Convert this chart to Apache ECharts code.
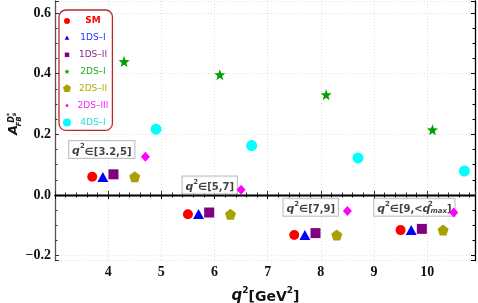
<!DOCTYPE html>
<html><head><meta charset="utf-8">
<script src="https://cdn.jsdelivr.net/npm/echarts@6/dist/echarts.min.js"></script>
<style>html,body{margin:0;padding:0;background:#fff}#c{width:478px;height:303px}</style>
</head><body><div id="c"></div>
<script>
// ---------- data ----------
const seriesNames = ['SM', '1DS–I', '1DS–II', '2DS–I', '2DS–II', '2DS–III', '4DS–I'];
const xSM      = [3.7, 5.5, 7.5, 9.5];
const ySM      = [0.060, -0.064, -0.132, -0.116];
const x1DSI    = [3.9, 5.7, 7.7, 9.7];
const y1DSI    = [0.059, -0.063, -0.132, -0.116];
const x1DSII   = [4.1, 5.9, 7.9, 9.9];
const y1DSII   = [0.068, -0.058, -0.126, -0.112];
const x2DSI    = [4.3, 6.1, 8.1, 10.1];
const y2DSI    = [0.440, 0.397, 0.331, 0.215];
const x2DSII   = [4.5, 6.3, 8.3, 10.3];
const y2DSII   = [0.060, -0.064, -0.132, -0.116];
const x2DSIII  = [4.7, 6.5, 8.5, 10.5];
const y2DSIII  = [0.126, 0.017, -0.053, -0.058];
const x4DSI    = [4.9, 6.7, 8.7, 10.7];
const y4DSI    = [0.217, 0.163, 0.122, 0.079];
const noteX    = [3.88, 5.91, 7.81, 9.76];
const noteY    = [0.150, 0.033, -0.041, -0.041];
const noteText = ['{q|q}{s|2}{b|∈[3.2,5]}', '{q|q}{s|2}{b|∈[5,7]}', '{q|q}{s|2}{b|∈[7,9]}', '{q|q}{s|2}{b|∈[9,<}{q|q}{s0|2}{sub|max}{b|]}'];
const zeroLine = [0];
const xTickMin = 4; // first labelled x tick

// ---------- shapes ----------
function polyPath(pts, pad) {
  return 'path://' + (pad ? 'M0 0M24 24' : '') + pts.map((p, i) => (i ? 'L' : 'M') + p[0].toFixed(2) + ' ' + p[1].toFixed(2)).join('') + 'Z';
}
function starPts(r) { const a = []; for (let k = 0; k < 10; k++) { const t = (-90 + k * 36) * Math.PI / 180, rr = k % 2 ? r * 0.42 : r; a.push([12 + rr * Math.cos(t), 12 + rr * Math.sin(t)]); } return a; }
function pentPts(r) { const a = []; for (let k = 0; k < 5; k++) { const t = (-90 + k * 72) * Math.PI / 180; a.push([12 + r * Math.cos(t), 12 + r * Math.sin(t)]); } return a; }
function triPts(r) { return [[12, 12 - r], [12 + r * 0.95, 12 + r * 0.75], [12 - r * 0.95, 12 + r * 0.75]]; }
function sqPts(r) { return [[12 - r, 12 - r], [12 + r, 12 - r], [12 + r, 12 + r], [12 - r, 12 + r]]; }
function diaPts(r) { return [[12, 12 - r], [12 + r * 0.8, 12], [12, 12 + r], [12 - r * 0.8, 12]]; }
function circ(r) { return 'path://M0 0M24 24M' + (12 - r) + ' 12A' + r + ' ' + r + ' 0 1 0 ' + (12 + r) + ' 12A' + r + ' ' + r + ' 0 1 0 ' + (12 - r) + ' 12Z'; }

const starSym = polyPath(starPts(12), false);
const pentSym = polyPath(pentPts(12), false);

const colors = ['#ff0000', '#0000ff', '#800080', '#00a000', '#a8a200', '#ff00ff', '#00ffff'];
const textColors = ['#ff0000', '#2233ff', '#8a2a8a', '#22aa22', '#b0aa10', '#ff22ff', '#22dddd'];
const symbols = ['circle', 'triangle', 'rect', starSym, pentSym, 'diamond', 'circle'];
const sizes = [[10, 10], [11, 10], [10, 10], [11, 11], [11, 11], [9, 10], [11, 11]];
const legendIcons = [circ(6), polyPath(triPts(5), true), polyPath(sqPts(4.5), true), polyPath(starPts(5.5), true), polyPath(pentPts(8.5), true), polyPath(diaPts(4), true), circ(8)];

const xs = [xSM, x1DSI, x1DSII, x2DSI, x2DSII, x2DSIII, x4DSI];
const ys = [ySM, y1DSI, y1DSII, y2DSI, y2DSII, y2DSIII, y4DSI];

const series = seriesNames.map((n, i) => ({
  name: n, type: 'scatter', xAxisIndex: 0, yAxisIndex: 0,
  symbol: symbols[i], symbolSize: sizes[i], z: 5,
  itemStyle: { color: colors[i], opacity: 1 },
  data: xs[i].map((x, j) => [x, ys[i][j]])
}));
series[0].markLine = {
  silent: true, symbol: ['none', 'none'], label: { show: false },
  lineStyle: { color: '#000', width: 1.4, type: 'solid' },
  data: zeroLine.map(v => ({ yAxis: v }))
};
series.push({
  name: 'notes', type: 'scatter', symbolSize: 1, z: 3,
  itemStyle: { color: 'transparent' },
  data: noteX.map((x, j) => ({ value: [x, noteY[j]], label: { formatter: noteText[j] } })),
  label: {
    show: true, position: 'inside', backgroundColor: '#fff', borderColor: '#b0b0b0', borderWidth: 1,
    padding: [2, 3, 1, 3], color: '#111',
    rich: {
      q: { fontFamily: 'DejaVu Sans', fontWeight: 'bold', fontStyle: 'italic', fontSize: 11, lineHeight: 14, verticalAlign: 'bottom' },
      b: { fontFamily: 'DejaVu Sans', fontWeight: 'bold', fontSize: 10, lineHeight: 14, verticalAlign: 'bottom' },
      s: { fontFamily: 'DejaVu Sans', fontWeight: 'bold', fontSize: 7, lineHeight: 8, verticalAlign: 'top' },
      s0: { fontFamily: 'DejaVu Sans', fontWeight: 'bold', fontSize: 7, lineHeight: 8, verticalAlign: 'top', width: 0 },
      sub: { fontFamily: 'DejaVu Sans', fontWeight: 'bold', fontStyle: 'italic', fontSize: 7, lineHeight: 8, verticalAlign: 'bottom' }
    }
  }
});

const serif = { fontFamily: 'Liberation Serif', fontWeight: 'bold', fontSize: 14, color: '#111' };
const X_MIN = 3, X_MAX = 10.9, Y_MIN = -0.217, Y_MAX = 0.64;

function yFmt(v) {
  const k = v / 0.2;
  if (Math.abs(k - Math.round(k)) > 1e-6) return '';
  const s = Math.abs(v).toFixed(1);
  return v < -1e-9 ? '−' + s : s;
}
function xFmt(v) {
  if (Math.abs(v - Math.round(v)) > 1e-6 || v < xTickMin - 1e-6) return '';
  return String(Math.round(v));
}
const gridLine = { show: true, lineStyle: { color: '#dedede', type: [1, 2], width: 1 } };

const option = {
  animation: false,
  backgroundColor: '#fff',
  grid: { left: 55, top: 1, width: 420.5, height: 259.7, containLabel: false },
  xAxis: [
    { type: 'value', min: X_MIN, max: X_MAX, interval: 1, position: 'bottom',
      axisLine: { lineStyle: { color: '#555', width: 1.3 } },
      axisTick: { inside: true, length: 4, lineStyle: { color: '#333' } },
      minorTick: { show: true, splitNumber: 5, length: 2.5, lineStyle: { color: '#333' } },
      axisLabel: Object.assign({ margin: 5, formatter: xFmt }, serif),
      splitLine: gridLine },
    { type: 'value', min: X_MIN, max: X_MAX, interval: 1, position: 'top',
      axisLine: { lineStyle: { color: '#000', width: 1.3 } },
      axisTick: { inside: true, length: 4, lineStyle: { color: '#000' } },
      minorTick: { show: true, splitNumber: 5, length: 2.5, lineStyle: { color: '#000' } },
      axisLabel: { show: false }, splitLine: { show: false } }
  ],
  yAxis: [
    { type: 'value', min: Y_MIN, max: Y_MAX, splitNumber: 5, position: 'left',
      axisLine: { lineStyle: { color: '#555', width: 1.3 } },
      axisTick: { inside: true, length: 4, lineStyle: { color: '#333' } },
      minorTick: { show: true, splitNumber: 4, length: 2.5, lineStyle: { color: '#333' } },
      axisLabel: Object.assign({ margin: 4, formatter: yFmt }, serif),
      splitLine: gridLine },
    { type: 'value', min: Y_MIN, max: Y_MAX, splitNumber: 5, position: 'right',
      axisLine: { lineStyle: { color: '#000', width: 1.3 } },
      axisTick: { inside: true, length: 4, lineStyle: { color: '#000' } },
      minorTick: { show: true, splitNumber: 4, length: 2.5, lineStyle: { color: '#000' } },
      axisLabel: { show: false }, splitLine: { show: false } }
  ],
  legend: {
    orient: 'vertical', left: 59, top: 10, padding: [5, 4, 2, 2],
    itemWidth: 12, itemHeight: 12, itemGap: 4.9,
    backgroundColor: '#fff', borderColor: '#b8282e', borderWidth: 1.3, borderRadius: 7,
    formatter: '{c|{name}}',
    textStyle: { fontFamily: 'DejaVu Sans', fontSize: 9, rich: { c: { width: 30, align: 'center' } } },
    data: seriesNames.map((n, i) => ({ name: n, icon: legendIcons[i], textStyle: { color: textColors[i], fontWeight: i === 0 ? 'bold' : 'normal' } }))
  },
  graphic: [
    { type: 'text', x: 265.5, y: 295, z: 10,
      style: { text: '{q|q}{s|2}{n|[GeV}{s|2}{n|]}', align: 'center', verticalAlign: 'middle', fill: '#111',
        rich: {
          q: { fontFamily: 'DejaVu Sans', fontWeight: 'bold', fontStyle: 'italic', fontSize: 15, lineHeight: 18, verticalAlign: 'bottom' },
          n: { fontFamily: 'DejaVu Sans', fontWeight: 'bold', fontSize: 14, lineHeight: 18, verticalAlign: 'bottom' },
          s: { fontFamily: 'DejaVu Sans', fontWeight: 'bold', fontSize: 9, lineHeight: 10, verticalAlign: 'top' }
        } } },
    { type: 'text', x: 13.5, y: 130, rotation: Math.PI / 2, z: 10,
      style: { text: 'A', font: 'italic bold 13px "DejaVu Sans"', fill: '#111', align: 'center', verticalAlign: 'middle' } },
    { type: 'text', x: 11.5, y: 119.5, rotation: Math.PI / 2, z: 10,
      style: { text: 'D', font: 'italic bold 8px "DejaVu Sans"', fill: '#111', align: 'center', verticalAlign: 'middle' } },
    { type: 'text', x: 9.5, y: 114.5, rotation: Math.PI / 2, z: 10,
      style: { text: '*', font: 'bold 6px "DejaVu Sans"', fill: '#111', align: 'center', verticalAlign: 'middle' } },
    { type: 'text', x: 14.5, y: 114.5, rotation: Math.PI / 2, z: 10,
      style: { text: 's', font: 'italic bold 6px "DejaVu Sans"', fill: '#111', align: 'center', verticalAlign: 'middle' } },
    { type: 'text', x: 19.5, y: 121.5, rotation: Math.PI / 2, z: 10,
      style: { text: 'FB', font: 'italic bold 7px "DejaVu Sans"', fill: '#111', align: 'center', verticalAlign: 'middle' } }
  ],
  series: series
};
const chart = echarts.init(document.getElementById('c'));
chart.setOption(option);
</script></body></html>
